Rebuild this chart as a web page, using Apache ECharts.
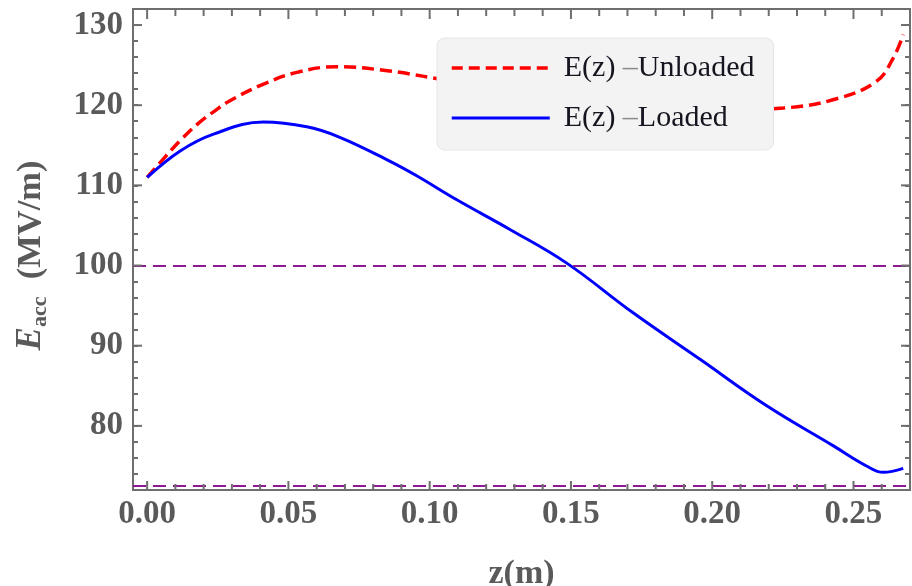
<!DOCTYPE html>
<html><head><meta charset="utf-8">
<script src="https://cdn.jsdelivr.net/npm/echarts@6/dist/echarts.min.js"></script>
<style>html,body{margin:0;padding:0;background:#fff}#c{width:912px;height:586px}</style>
</head><body><div id="c"></div>
<script>
// ---- data ----
const zUnloaded = [0.000, 0.006, 0.012, 0.018, 0.024, 0.029, 0.041, 0.053, 0.067, 0.085, 0.110, 0.139, 0.157, 0.178, 0.2016, 0.2252, 0.244, 0.2582, 0.2641, 0.2676];
const eUnloaded = [111.0, 113.4, 115.7, 117.7, 119.3, 120.5, 122.6, 124.1, 124.8, 124.3, 123.0, 122.4, 121.4, 120.4, 119.4, 119.65, 120.8, 123.0, 125.9, 128.8];
const zLoaded = [0.000, 0.0117, 0.0235, 0.0412, 0.0565, 0.0682, 0.086, 0.0954, 0.1096, 0.1284, 0.1485, 0.172, 0.1957, 0.2193, 0.2429, 0.2546, 0.2605, 0.2676];
const eLoaded = [111.0, 114.3, 116.4, 117.9, 117.3, 116.0, 113.0, 111.2, 108.2, 104.5, 100.3, 94.1, 88.3, 82.5, 77.5, 75.0, 74.2, 74.7];
const refLevels = [100, 72.5];
const seriesNames = ['E(z) \u2013Unloaded', 'E(z) \u2013Loaded'];
const xTickLabels = [0, 0.05, 0.10, 0.15, 0.20, 0.25];
const xMinorTicks = [0.01, 0.02, 0.03, 0.04, 0.06, 0.07, 0.08, 0.09, 0.11, 0.12, 0.13, 0.14, 0.16, 0.17, 0.18, 0.19, 0.21, 0.22, 0.23, 0.24, 0.26];
const yTickLabels = [80, 90, 100, 110, 120, 130];

// ---- axis ranges ----
const X_MIN = -0.005, X_MAX = 0.27, Y_MIN = 72, Y_MAX = 132, Y_MINOR = 2;

const pairs = (xs, ys) => xs.map((x, i) => [x, ys[i]]);
const serif = 'Liberation Serif';
const labelColor = '#5a5a5a';
const frameColor = '#6e6e6e';
const tickLine = { color: frameColor, width: 2 };

// tick marks drawn at axis values through the chart's own scales
function tickSeries(data, size, offset) {
  return {
    type: 'scatter', xAxisIndex: 0, yAxisIndex: 0, data: data, silent: true, clip: false, z: 5,
    symbol: 'rect', symbolSize: size, symbolOffset: offset,
    itemStyle: { color: frameColor, opacity: 1 }, emphasis: { disabled: true }, tooltip: { show: false }
  };
}

const xAxes = [{
  type: 'value', position: 'bottom', min: X_MIN, max: X_MAX,
  axisLine: { show: false, onZero: false }, splitLine: { show: false },
  axisTick: { show: false },
  axisLabel: { show: true, customValues: xTickLabels, margin: 8, fontFamily: serif, fontWeight: 'bold', fontSize: 33, color: labelColor,
               formatter: v => Number(v).toFixed(2) },
  name: 'z(m)', nameLocation: 'middle', nameGap: 67,
  nameTextStyle: { fontFamily: serif, fontWeight: 'bold', fontSize: 34, color: labelColor }
}];

const yAxes = [
  {
    type: 'value', position: 'left', min: Y_MIN, max: Y_MAX, interval: Y_MINOR,
    axisLine: { show: false, onZero: false }, splitLine: { show: false },
    axisTick: { show: true, inside: true, length: 5, lineStyle: tickLine },
    axisLabel: { show: true, customValues: yTickLabels, margin: 10, fontFamily: serif, fontWeight: 'bold', fontSize: 33, color: labelColor,
                 formatter: v => String(Math.round(v)) },
    name: '{e|E}{s|acc}{n|  (MV/m)}', nameLocation: 'middle', nameRotate: 90, nameGap: 82,
    nameTextStyle: {
      padding: [0, 12, 0, 0],
      rich: {
        e: { fontFamily: serif, fontWeight: 'bold', fontStyle: 'italic', fontSize: 35, lineHeight: 40, color: labelColor },
        s: { fontFamily: serif, fontWeight: 'bold', fontSize: 22, lineHeight: 20, verticalAlign: 'bottom', color: labelColor },
        n: { fontFamily: serif, fontWeight: 'bold', fontSize: 34.5, lineHeight: 40, color: labelColor }
      }
    }
  },
  {
    type: 'value', position: 'right', min: Y_MIN, max: Y_MAX, interval: Y_MINOR,
    axisLine: { show: false, onZero: false }, splitLine: { show: false },
    axisTick: { show: true, inside: true, length: 5, lineStyle: tickLine },
    axisLabel: { show: false }
  }
];

const hidden = 'rgba(0,0,0,0)';
const chart = echarts.init(document.getElementById('c'), null, { renderer: 'canvas' });
chart.setOption({
  animation: false,
  backgroundColor: '#ffffff',
  grid: { left: 133, right: 2, top: 9, bottom: 96, outerBoundsMode: 'none', containLabel: false,
          show: true, borderColor: frameColor, borderWidth: 2, backgroundColor: 'transparent' },
  xAxis: xAxes,
  yAxis: yAxes,
  legend: {
    orient: 'vertical', left: 437, top: 38,
    padding: [15, 19, 17, 13], itemGap: 20,
    itemWidth: 98, itemHeight: 14,
    backgroundColor: '#f3f3f3', borderColor: '#e6e6e6', borderWidth: 1, borderRadius: 8,
    selectedMode: false,
    itemStyle: { color: hidden, borderColor: hidden, borderWidth: 0 },
    data: [
      { name: seriesNames[0], lineStyle: { width: 3.5, color: '#ff0000', type: [11, 6] } },
      { name: seriesNames[1], lineStyle: { width: 3, color: '#0000ff', type: 'solid' } }
    ],
    formatter: name => {
      const parts = name.split('\u2013');
      return '{p|' + parts[0] + '}{d|\u2013}{a|' + parts[1] + '}';
    },
    textStyle: {
      fontFamily: serif, fontSize: 30, color: '#151520',
      rich: {
        p: { fontFamily: serif, fontSize: 30, lineHeight: 30, color: '#151520', padding: [0, 0, 0, 9] },
        d: { fontFamily: serif, fontSize: 30, lineHeight: 30, color: '#8a8a8a' },
        a: { fontFamily: serif, fontSize: 30, lineHeight: 30, color: '#151520' }
      }
    }
  },
  series: [
    {
      name: seriesNames[0], type: 'line', xAxisIndex: 0, yAxisIndex: 0,
      data: pairs(zUnloaded, eUnloaded), smooth: 0.4, symbol: 'none', z: 3,
      lineStyle: { color: '#ff0000', width: 3.5, type: [12, 6] },
      itemStyle: { color: '#ff0000' }
    },
    {
      name: seriesNames[1], type: 'line', xAxisIndex: 0, yAxisIndex: 0,
      data: pairs(zLoaded, eLoaded), smooth: 0.4, symbol: 'none', z: 4,
      lineStyle: { color: '#0000ff', width: 3 },
      itemStyle: { color: '#0000ff' },
      markLine: {
        silent: true, symbol: ['none', 'none'], label: { show: false },
        lineStyle: { color: '#8e1a92', width: 2, type: [13, 7] },
        emphasis: { disabled: true },
        data: refLevels.map(v => ({ yAxis: v }))
      }
    },
    // frame ticks (Mathematica-style, inside on all four sides)
    tickSeries(xTickLabels.map(v => [v, Y_MIN]), [2, 9], [0, -4.5]),
    tickSeries(xMinorTicks.map(v => [v, Y_MIN]), [2, 6], [0, -3]),
    tickSeries(xTickLabels.map(v => [v, Y_MAX]), [2, 10], [0, 5]),
    tickSeries(xMinorTicks.map(v => [v, Y_MAX]), [2, 7], [0, 3.5]),
    tickSeries(yTickLabels.map(v => [X_MIN, v]), [9, 2], [4.5, 0]),
    tickSeries(yTickLabels.map(v => [X_MAX, v]), [9, 2], [-4.5, 0])
  ]
});
</script>
</body></html>
